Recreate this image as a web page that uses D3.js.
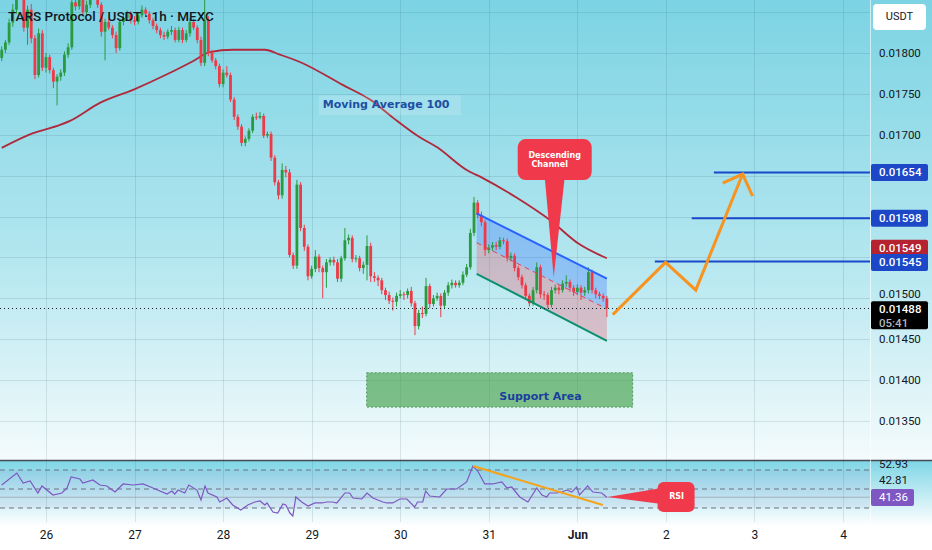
<!DOCTYPE html>
<html>
<head>
<meta charset="utf-8">
<script src="https://cdn.jsdelivr.net/npm/d3@7"></script>
<style>
html, body { margin: 0; padding: 0; background: #fff; }
svg { display: block; font-family: Roboto, "Noto Sans", sans-serif; }
</style>
</head>
<body>
<svg id="chart" width="932" height="550"></svg>
<script>
// Hourly candles, prices in 1e-5 USDT. First candle opens 25 May 12:00.
const firstCandle = Date.UTC(2024, 4, 25, 12);
const firstOpen = 1794;
const closes = [
  1804,1813,1837,1853,1871,1883,1831,1853,1818,1773,
  1824,1782,1795,1779,1765,1771,1776,1798,1807,1862,
  1857,1865,1850,1859,1871,1875,1859,1826,1838,1831,
  1822,1806,1838,1843,1848,1840,1838,1846,1853,1848,
  1840,1833,1828,1822,1820,1826,1828,1816,1828,1816,
  1824,1838,1831,1816,1788,1840,1800,1791,1784,1762,
  1776,1773,1743,1722,1710,1690,1695,1705,1722,1721,
  1723,1699,1701,1672,1642,1626,1657,1654,1553,1540,
  1639,1586,1563,1527,1536,1551,1537,1532,1544,1547,
  1544,1524,1549,1571,1574,1548,1549,1537,1541,1564,
  1527,1525,1522,1510,1504,1497,1496,1503,1505,1504,
  1509,1494,1466,1482,1481,1515,1493,1500,1503,1491,
  1507,1516,1519,1516,1519,1529,1538,1580,1617,1602,
  1593,1559,1562,1565,1563,1571,1570,1549,1552,1537,
  1526,1516,1503,1494,1510,1538,1505,1504,1492,1510,
  1513,1510,1518,1520,1513,1508,1513,1507,1510,1532,
  1510,1505,1503,1500,1488
];
const highs = [
  1808,1816,1842,1860,1880,1895,1888,1858,1860,1822,
  1830,1828,1800,1798,1782,1774,1780,1802,1812,1875,
  1868,1872,1868,1864,1878,1885,1880,1862,1842,1842,
  1834,1826,1842,1848,1852,1851,1845,1850,1858,1856,
  1851,1843,1836,1831,1826,1829,1833,1831,1832,1831,
  1828,1843,1842,1834,1820,1885,1845,1804,1794,1787,
  1780,1784,1776,1746,1725,1713,1698,1708,1725,1727,
  1728,1726,1704,1704,1675,1645,1665,1662,1658,1556,
  1645,1642,1590,1566,1540,1559,1554,1540,1548,1550,
  1551,1548,1552,1586,1578,1577,1553,1552,1545,1577,
  1568,1532,1528,1525,1513,1508,1501,1507,1510,1508,
  1512,1514,1497,1486,1490,1525,1518,1504,1507,1506,
  1510,1520,1523,1522,1522,1533,1542,1585,1624,1620,
  1606,1596,1566,1569,1569,1575,1574,1573,1556,1555,
  1540,1529,1519,1506,1514,1544,1541,1509,1507,1514,
  1517,1516,1522,1528,1523,1516,1517,1516,1514,1538,
  1535,1513,1508,1506,1503
];
const lows = [
  1790,1800,1810,1832,1848,1866,1826,1810,1812,1768,
  1770,1778,1776,1775,1757,1736,1766,1772,1794,1804,
  1852,1853,1846,1846,1855,1866,1855,1820,1791,1828,
  1818,1800,1803,1834,1840,1836,1834,1835,1843,1845,
  1836,1829,1824,1818,1816,1817,1822,1813,1813,1812,
  1813,1820,1828,1812,1784,1784,1796,1788,1780,1758,
  1758,1770,1740,1718,1706,1686,1686,1692,1702,1718,
  1719,1696,1696,1668,1638,1621,1622,1648,1550,1536,
  1536,1582,1558,1522,1524,1532,1532,1500,1513,1540,
  1540,1520,1520,1546,1566,1544,1544,1533,1530,1522,
  1520,1520,1515,1505,1498,1493,1485,1490,1500,1498,
  1500,1490,1455,1462,1476,1478,1488,1490,1497,1477,
  1488,1503,1512,1513,1513,1516,1526,1535,1576,1598,
  1588,1552,1555,1558,1559,1560,1566,1545,1545,1533,
  1522,1512,1499,1490,1491,1506,1500,1498,1488,1489,
  1506,1505,1507,1514,1508,1503,1504,1498,1503,1506,
  1506,1500,1499,1496,1477
];

// Moving Average 100 (hours from first candle, price in 1e-5)
const maHour = [0, 8.5, 15.8, 18.5, 26.6, 35.6, 44.8, 51.8, 56.4, 62.7, 71.3, 75.4, 80.8, 92.4, 99.8, 106, 113.3, 117.9, 126, 130.4, 139.6, 148.5, 156.6, 164];
const maVal  = [1684, 1702, 1712, 1717, 1739, 1755, 1774, 1790, 1801, 1804, 1804, 1798, 1789, 1761, 1743, 1721, 1697, 1685, 1657, 1647, 1623, 1596, 1566, 1549];

// RSI (hours from first candle, value)
const rsiHour = [0,4.1,5.8,7.7,9.8,10.9,13.9,16.3,17.7,18.8,21.2,22.0,24.7,26.6,28.5,30.7,32.9,35.6,38.3,41.0,
  44.8,46.1,46.9,47.8,49.6,50.7,52.9,54.0,55.1,55.9,58.3,59.1,61.0,62.6,64.8,66.7,68.6,70.0,71.3,71.9,
  73.5,74.8,76.2,77.0,78.1,78.9,79.7,81.3,83.0,84.9,86.8,88.1,89.7,90.8,93.0,94.3,95.2,97.6,99.0,100.6,
  103.3,104.4,106.0,107.9,109.8,111.9,112.7,114.1,114.9,116.0,118.7,120.6,123.3,126.0,127.7,129.0,130.9,133.1,135.5,136.9,
  138.2,140.4,142.6,145.0,146.4,147.7,148.5,150.4,151.8,153.1,154.5,155.8,156.6,158.8,160.2,162.6,164];
const rsiVal = [54.2,66.8,56.3,58.4,45.8,53.2,43.7,45.8,51.1,62.6,60.5,56.3,59.5,54.2,53.2,46.8,55.3,54.2,55.3,51.1,
  44.7,47.9,44.7,48.9,45.8,54.2,48.9,38.4,53.2,45.8,41.6,36.3,40.5,33.2,27.9,33.2,36.3,37.4,33.2,35.3,
  25.8,24.7,34.2,33.2,24.7,21.6,41.6,36.3,32.1,35.3,35.3,36.3,36.3,35.3,45.8,45.8,40.5,39.5,45.8,40.5,
  36.3,35.3,35.3,39.5,39.5,31.1,36.3,36.3,47.9,42.6,41.6,50.0,50.0,57.4,74.2,68.9,55.3,55.3,57.4,51.1,
  52.1,41.6,36.3,51.1,43.7,41.6,45.8,45.8,46.8,48.9,46.8,52.1,43.7,53.2,46.8,45.8,41.4];
const rsiLevels = [70, 50, 30];
const rsiTrendHour = [127.7, 162.9];
const rsiTrendVal = [74.2, 33.2];

// Descending channel
const chanHour = [128.7, 164];
const chanUpper = [1604, 1524];
const chanMid = [1568, 1487];
const chanLower = [1530, 1448];

// Target levels and projected path
const targetPrice = [0.01654, 0.01598, 0.01545];
const targetStartHour = [193, 187, 177];
const projHour = [165.6, 179.9, 188.1, 200.8];
const projPrice = [1480, 1544, 1510, 1652];
const arrowHour = [195.4, 200.8, 203.5];
const arrowPrice = [1641, 1652, 1625];

// Support area
const supportHour = [98.9, 171];
const supportPrice = [0.01367, 0.01409];

// Axes
const dayTicks = [26, 27, 28, 29, 30, 31, 32, 33, 34, 35].map(d => new Date(Date.UTC(2024, 4, d)));
const dayLabels = ["26", "27", "28", "29", "30", "31", "Jun", "2", "3", "4"];
const priceGrid = [0.0135, 0.0140, 0.0145, 0.0150, 0.0155, 0.0160, 0.0165, 0.0170, 0.0175, 0.0180, 0.0185];
const priceLabels = [0.0135, 0.0140, 0.0145, 0.0150, 0.0170, 0.0175, 0.0180];
const lastPrice = 0.01488;
const maLast = 0.01549;
const rsiAxisText = ["52.93", "42.81"];
const rsiLast = 41.36;

const W = 932, H = 550, plotR = 870, mainB = 460, rsiT = 461, rsiB = 522;
const green = "#2a9a3e", red = "#ee3a48";

const svg = d3.select("#chart");

const x = d3.scaleUtc()
    .domain([dayTicks[0], dayTicks[dayTicks.length - 1]])
    .range([46, 843]);
const y = d3.scaleLinear().domain([0.0135, 0.018]).range([421, 53]);
const yr = d3.scaleLinear().domain([30, 70]).range([508, 470]);

const P = v => v / 1e5;
const hx = h => x(new Date(firstCandle + h * 3600e3));

// Backgrounds
const defs = svg.append("defs");
const gMain = defs.append("linearGradient").attr("id", "bgMain")
    .attr("x1", 0).attr("y1", 0).attr("x2", 0).attr("y2", 1);
gMain.append("stop").attr("offset", "0%").attr("stop-color", "#7cd3e3");
gMain.append("stop").attr("offset", "55%").attr("stop-color", "#b2e6ef");
gMain.append("stop").attr("offset", "100%").attr("stop-color", "#f4fbfc");
const gRsi = defs.append("linearGradient").attr("id", "bgRsi")
    .attr("x1", 0).attr("y1", 0).attr("x2", 0).attr("y2", 1);
gRsi.append("stop").attr("offset", "0%").attr("stop-color", "#7fd6e6");
gRsi.append("stop").attr("offset", "100%").attr("stop-color", "#ffffff");

defs.append("clipPath").attr("id", "clipMain")
    .append("rect").attr("x", 0).attr("y", 0).attr("width", plotR).attr("height", mainB);
defs.append("clipPath").attr("id", "clipRsi")
    .append("rect").attr("x", 0).attr("y", rsiT).attr("width", plotR).attr("height", rsiB - rsiT);

svg.append("rect").attr("width", W).attr("height", H).attr("fill", "#fff");
svg.append("rect").attr("width", W).attr("height", mainB).attr("fill", "url(#bgMain)");
svg.append("rect").attr("y", rsiT).attr("width", W).attr("height", rsiB - rsiT + 4).attr("fill", "url(#bgRsi)");

// Grid
const grid = svg.append("g").attr("stroke", "rgba(30,80,100,0.13)").attr("stroke-width", 1);
grid.selectAll("line.v").data(dayTicks).enter().append("line")
    .attr("x1", d => Math.round(x(d)) + 0.5).attr("x2", d => Math.round(x(d)) + 0.5)
    .attr("y1", 0).attr("y2", rsiB);
grid.selectAll("line.h").data(priceGrid).enter().append("line")
    .attr("x1", 0).attr("x2", plotR)
    .attr("y1", d => Math.round(y(d)) + 0.5).attr("y2", d => Math.round(y(d)) + 0.5);

// Main pane
const main = svg.append("g").attr("clip-path", "url(#clipMain)");

// Support area
main.append("rect")
    .attr("x", hx(supportHour[0])).attr("width", hx(supportHour[1]) - hx(supportHour[0]))
    .attr("y", y(supportPrice[1])).attr("height", y(supportPrice[0]) - y(supportPrice[1]))
    .attr("fill", "rgba(62,156,66,0.62)")
    .attr("stroke", "#3f8a45").attr("stroke-width", 0.8).attr("stroke-dasharray", "2,2");
main.append("text")
    .attr("x", hx(146)).attr("y", y(0.01379))
    .attr("text-anchor", "middle").attr("dominant-baseline", "middle")
    .attr("font-family", "DejaVu Sans").attr("font-weight", "bold").attr("font-size", 11)
    .attr("fill", "#1c3f9e").text("Support Area");

// Channel fills
const cx0 = hx(chanHour[0]), cx1 = hx(chanHour[1]);
main.append("path")
    .attr("d", `M${cx0},${y(P(chanUpper[0]))}L${cx1},${y(P(chanUpper[1]))}L${cx1},${y(P(chanMid[1]))}L${cx0},${y(P(chanMid[0]))}Z`)
    .attr("fill", "rgba(41,98,255,0.28)");
main.append("path")
    .attr("d", `M${cx0},${y(P(chanMid[0]))}L${cx1},${y(P(chanMid[1]))}L${cx1},${y(P(chanLower[1]))}L${cx0},${y(P(chanLower[0]))}Z`)
    .attr("fill", "rgba(246,70,90,0.28)");

// MA 100
const maLine = d3.line().curve(d3.curveMonotoneX)
    .x((d, i) => hx(maHour[i])).y(d => y(P(d)));
main.append("path").datum(maVal)
    .attr("d", maLine).attr("fill", "none")
    .attr("stroke", "#b0283a").attr("stroke-width", 1.8);

// Candles
const candles = main.append("g");
closes.forEach((c, i) => {
    const o = i === 0 ? firstOpen : closes[i - 1];
    const col = c >= o ? green : red;
    const cx = hx(i);
    candles.append("line")
        .attr("x1", cx).attr("x2", cx)
        .attr("y1", y(P(highs[i]))).attr("y2", y(P(lows[i])))
        .attr("stroke", col).attr("stroke-width", 1);
    const top = y(P(Math.max(o, c))), bot = y(P(Math.min(o, c)));
    candles.append("rect")
        .attr("x", cx - 1.4).attr("width", 2.8)
        .attr("y", top).attr("height", Math.max(1, bot - top))
        .attr("fill", col);
});

// Channel lines
const chanLine = (vals, col, dash) => main.append("line")
    .attr("x1", cx0).attr("y1", y(P(vals[0])))
    .attr("x2", cx1).attr("y2", y(P(vals[1])))
    .attr("stroke", col).attr("stroke-width", dash ? 1 : 2)
    .attr("stroke-dasharray", dash ? "5,4" : null);
chanLine(chanUpper, "#2962ff", false);
chanLine(chanMid, "#e2424f", true);
chanLine(chanLower, "#0b8f6e", false);

// Current price dotted line
main.append("line")
    .attr("x1", 0).attr("x2", plotR)
    .attr("y1", Math.round(y(lastPrice)) + 0.5).attr("y2", Math.round(y(lastPrice)) + 0.5)
    .attr("stroke", "#131722").attr("stroke-width", 1).attr("stroke-dasharray", "1,3");

// Target levels
main.selectAll("line.target").data(targetPrice).enter().append("line")
    .attr("x1", (d, i) => hx(targetStartHour[i])).attr("x2", plotR)
    .attr("y1", d => y(d)).attr("y2", d => y(d))
    .attr("stroke", "#1848cc").attr("stroke-width", 2);

// Projected path
const projLine = d3.line().x((d, i) => hx(projHour[i])).y(d => y(P(d)));
main.append("path").datum(projPrice)
    .attr("d", projLine).attr("fill", "none")
    .attr("stroke", "#f7931e").attr("stroke-width", 3).attr("stroke-linejoin", "miter");
const arrowLine = d3.line().x((d, i) => hx(arrowHour[i])).y(d => y(P(d)));
main.append("path").datum(arrowPrice)
    .attr("d", arrowLine).attr("fill", "none")
    .attr("stroke", "#f7931e").attr("stroke-width", 3);

// Moving Average label
const maLbl = main.append("g");
const maLblX = hx(87), maLblY = y(0.01736);
maLbl.append("rect").attr("x", maLblX - 4).attr("y", maLblY - 10)
    .attr("width", 142).attr("height", 20).attr("fill", "rgba(255,255,255,0.16)");
maLbl.append("text").attr("x", maLblX).attr("y", maLblY)
    .attr("dominant-baseline", "middle")
    .attr("font-family", "DejaVu Sans").attr("font-weight", "bold").attr("font-size", 11)
    .attr("fill", "#1d4ea3").text("Moving Average 100");

// Descending channel callout
const tipX = hx(149.6), tipY = y(0.01526);
main.append("path")
    .attr("d", `M${tipX - 9},${tipY - 100}L${tipX + 11},${tipY - 100}L${tipX},${tipY}Z`)
    .attr("fill", "#f0394b");
main.append("rect")
    .attr("x", tipX - 36).attr("y", tipY - 138).attr("width", 74).attr("height", 41).attr("rx", 8)
    .attr("fill", "#f0394b");
const callTxt = main.append("text")
    .attr("font-family", "DejaVu Sans").attr("font-weight", "bold").attr("font-size", 8)
    .attr("fill", "#fff").attr("text-anchor", "middle");
callTxt.append("tspan").attr("x", tipX + 1).attr("y", tipY - 119).text("Descending");
callTxt.append("tspan").attr("x", tipX - 4).attr("y", tipY - 110).text("Channel");

// RSI pane
const rsiG = svg.append("g").attr("clip-path", "url(#clipRsi)");
rsiG.append("rect")
    .attr("x", 0).attr("width", plotR)
    .attr("y", yr(70)).attr("height", yr(30) - yr(70))
    .attr("fill", "rgba(126,87,194,0.08)");
rsiG.selectAll("line.lvl").data(rsiLevels).enter().append("line")
    .attr("x1", 0).attr("x2", plotR)
    .attr("y1", d => yr(d)).attr("y2", d => yr(d))
    .attr("stroke", "#6b7280").attr("stroke-width", 1).attr("stroke-dasharray", "5,4");
rsiG.append("line")
    .attr("x1", 0).attr("x2", plotR)
    .attr("y1", yr(rsiLast)).attr("y2", yr(rsiLast))
    .attr("stroke", "rgba(120,123,134,0.45)").attr("stroke-width", 1);
const rsiLine = d3.line().x((d, i) => hx(rsiHour[i])).y(d => yr(d));
rsiG.append("path").datum(rsiVal)
    .attr("d", rsiLine).attr("fill", "none")
    .attr("stroke", "#7e57c2").attr("stroke-width", 1.2);
rsiG.append("line")
    .attr("x1", hx(rsiTrendHour[0])).attr("y1", yr(rsiTrendVal[0]))
    .attr("x2", hx(rsiTrendHour[1])).attr("y2", yr(rsiTrendVal[1]))
    .attr("stroke", "#f5a31a").attr("stroke-width", 2);

// RSI callout
const rTipX = hx(164.2), rTipY = yr(41.6);
rsiG.append("path")
    .attr("d", `M${rTipX},${rTipY}L${rTipX + 54},${rTipY - 9}L${rTipX + 54},${rTipY + 7}Z`)
    .attr("fill", "#f0394b");
rsiG.append("rect")
    .attr("x", rTipX + 50).attr("y", rTipY - 15).attr("width", 37).attr("height", 30).attr("rx", 6)
    .attr("fill", "#f0394b");
rsiG.append("text")
    .attr("x", rTipX + 69).attr("y", rTipY).attr("text-anchor", "middle").attr("dominant-baseline", "middle")
    .attr("font-family", "DejaVu Sans").attr("font-weight", "bold").attr("font-size", 8)
    .attr("fill", "#fff").text("RSI");

// Separators
svg.append("line").attr("x1", 0).attr("x2", W).attr("y1", 460.5).attr("y2", 460.5)
    .attr("stroke", "#454955").attr("stroke-width", 1.5);
svg.append("line").attr("x1", plotR + 0.5).attr("x2", plotR + 0.5).attr("y1", 0).attr("y2", rsiB)
    .attr("stroke", "rgba(255,255,255,0.6)").attr("stroke-width", 1);

// Price axis
const yAxis = svg.append("g").attr("transform", `translate(${plotR},0)`)
    .call(d3.axisRight(y).tickValues(priceLabels).tickFormat(d3.format(".5f")).tickSize(0).tickPadding(9));
yAxis.select(".domain").remove();
yAxis.selectAll("text").attr("font-size", 11.5).attr("fill", "#131722").attr("font-family", "Roboto")
    .attr("dy", d => d === 0.015 ? "-0.05em" : "0.32em");

// Price tags
function tag(yc, fill, lines, h) {
    const g = svg.append("g");
    g.append("rect").attr("x", plotR + 1).attr("y", yc - h / 2).attr("width", 57).attr("height", h)
        .attr("rx", 2).attr("fill", fill);
    lines.forEach((l, i) => {
        g.append("text").attr("x", plotR + 9).attr("y", yc - h / 2 + 9 + i * 14)
            .attr("dominant-baseline", "middle").attr("font-size", 11.5).attr("font-weight", 500)
            .attr("fill", l.color).text(l.text);
    });
}
const fmt = d3.format(".5f");
targetPrice.forEach(p => {
    if (p === 0.01545) return;
    tag(y(p), "#1c48c8", [{ text: fmt(p), color: "#fff" }], 17);
});
tag(y(maLast) - 10, "#b4232f", [{ text: fmt(maLast), color: "#fff" }], 17);
tag(y(0.01545) + 1, "#1c48c8", [{ text: fmt(0.01545), color: "#fff" }], 17);
tag(y(lastPrice) + 7, "#000", [{ text: fmt(lastPrice), color: "#fff" }, { text: "05:41", color: "#b2b5be" }], 28);

// USDT box
svg.append("rect").attr("x", 873).attr("y", 4).attr("width", 53).attr("height", 26).attr("rx", 4).attr("fill", "#fff");
svg.append("text").attr("x", 899.5).attr("y", 17).attr("text-anchor", "middle").attr("dominant-baseline", "middle")
    .attr("font-size", 11).attr("fill", "#131722").text("USDT");

// RSI axis labels
svg.append("text").attr("x", plotR + 9).attr("y", 465).attr("dominant-baseline", "middle")
    .attr("font-size", 11.5).attr("fill", "#131722").text(rsiAxisText[0]);
svg.append("text").attr("x", plotR + 9).attr("y", 481).attr("dominant-baseline", "middle")
    .attr("font-size", 11.5).attr("fill", "#131722").text(rsiAxisText[1]);
svg.append("rect").attr("x", plotR + 1).attr("y", 489).attr("width", 43).attr("height", 17).attr("rx", 2).attr("fill", "#7e57c2");
svg.append("text").attr("x", plotR + 9).attr("y", 498).attr("dominant-baseline", "middle")
    .attr("font-size", 11.5).attr("fill", "#fff").text(d3.format(".2f")(rsiLast));

// Time axis
const xAxis = svg.append("g").attr("transform", "translate(0,530)")
    .call(d3.axisBottom(x).tickValues(dayTicks).tickFormat((d, i) => dayLabels[i]).tickSize(0).tickPadding(0));
xAxis.select(".domain").remove();
xAxis.selectAll("text").attr("font-size", 12).attr("fill", "#131722").attr("font-family", "Roboto")
    .attr("font-weight", (d, i) => dayLabels[i] === "Jun" ? "bold" : null);

// Title
svg.append("text").attr("x", 8).attr("y", 21)
    .attr("font-size", 13.5).attr("font-weight", 500).attr("fill", "#131722")
    .text("TARS Protocol / USDT · 1h · MEXC");
</script>
</body>
</html>
